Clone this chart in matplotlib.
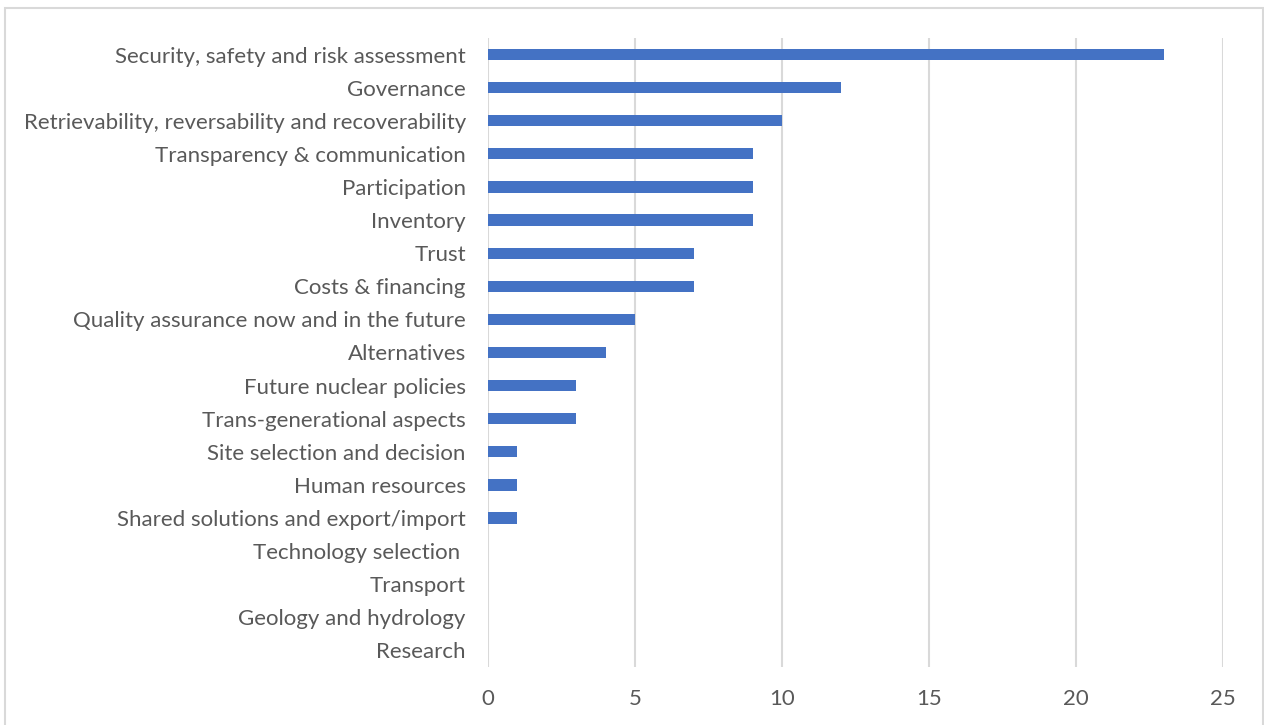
import matplotlib
matplotlib.use("Agg")
import matplotlib.pyplot as plt
from matplotlib.patches import Rectangle

categories = [
    "Security, safety and risk assessment",
    "Governance",
    "Retrievability, reversability and recoverability",
    "Transparency & communication",
    "Participation",
    "Inventory",
    "Trust",
    "Costs & financing",
    "Quality assurance now and in the future",
    "Alternatives",
    "Future nuclear policies",
    "Trans-generational aspects",
    "Site selection and decision",
    "Human resources",
    "Shared solutions and export/import",
    "Technology selection ",
    "Transport",
    "Geology and hydrology",
    "Research",
]
counts = [23, 12, 10, 9, 9, 9, 7, 7, 5, 4, 3, 3, 1, 1, 1, 0, 0, 0, 0]
x_ticks = [0, 5, 10, 15, 20, 25]

text_color = "#595959"
grid_color = "#D9D9D9"
bar_color = "#4472C4"

plt.rcParams["font.family"] = ["Lato", "DejaVu Sans"]

W, H = 1264, 725
fig = plt.figure(figsize=(W / 100, H / 100), dpi=100)
ax = fig.add_axes([488 / W, 1 - 667 / H, (1223 - 488) / W, (667 - 38) / H])

ypos = list(range(len(categories)))
ax.barh(ypos, counts, height=0.34, color=bar_color, zorder=3)
ax.set_ylim(len(categories) - 0.5, -0.5)
ax.set_xlim(0, 25)
ax.set_yticks(ypos)
ax.set_yticklabels(categories, fontsize=16, color=text_color)
ax.set_xticks(x_ticks)
ax.set_xticklabels([str(t) for t in x_ticks], fontsize=16, color=text_color)
ax.tick_params(axis="both", length=0)
ax.tick_params(axis="y", pad=16)
ax.tick_params(axis="x", pad=16)
for s in ax.spines.values():
    s.set_visible(False)
ax.grid(axis="x", color=grid_color, linewidth=1.5, zorder=0)

# light chart frame
fig.patches.append(Rectangle((5 / W, -0.05), (1263 - 5) / W, 1.05 - 8 / H,
                             transform=fig.transFigure, fill=False,
                             edgecolor=grid_color, linewidth=1.5))

fig.savefig("out.png", dpi=100)
